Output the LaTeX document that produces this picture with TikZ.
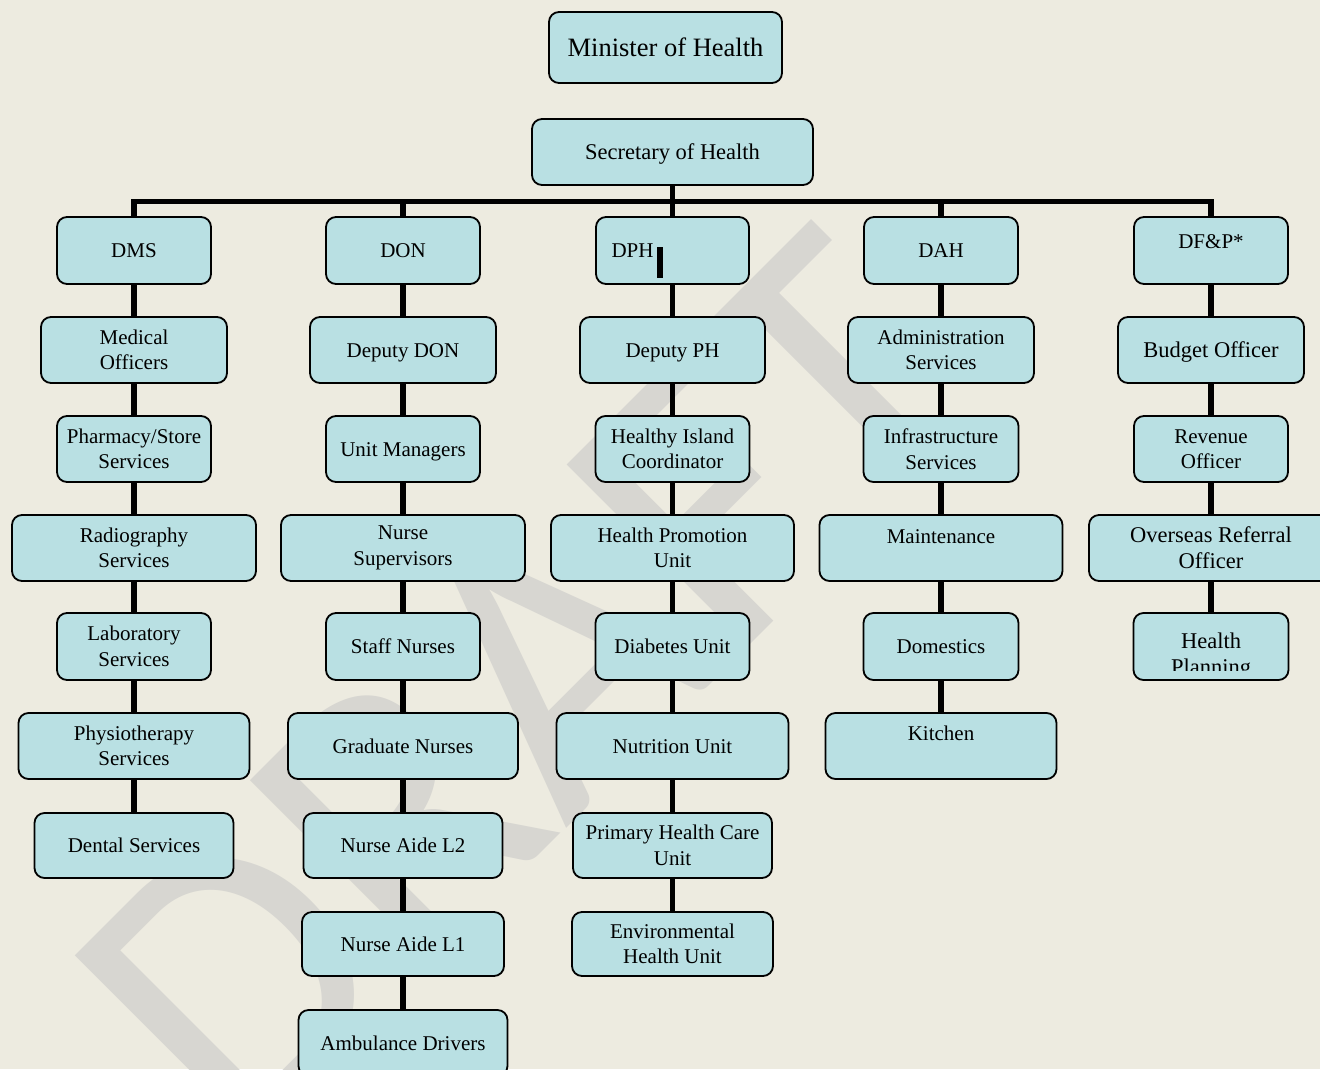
\documentclass[tikz,border=0pt]{standalone}
\usepackage{fontspec}
\setmainfont{Liberation Serif}
\newfontfamily\wmfont{Carlito}
\definecolor{bgc}{RGB}{237,235,224}
\definecolor{boxfill}{RGB}{185,224,227}
\definecolor{wmc}{RGB}{215,214,209}
\tikzset{
  box/.style={draw=black, line width=1.8pt, fill=boxfill, rounded corners=10pt,
    inner xsep=3pt, inner ysep=2pt, align=center, text=black,
    font=\fontsize{21}{25.5}\selectfont},
  big/.style={font=\fontsize{22.5}{26}\selectfont},
  one/.style={text height=18.7pt, text depth=4.5pt},
  onebig/.style={text height=20pt, text depth=4.9pt},
  conn/.style={line width=5.5pt, draw=black},
  topal/.style={text height=18.7pt, text depth=#1},
}
\begin{document}
\begin{tikzpicture}[x=1pt,y=-1pt]
\useasboundingbox (0,0) rectangle (1320,1069);
\fill[bgc] (0,0) rectangle (1320,1069);
\clip (0,0) rectangle (1320,1069);
% watermark
\node[anchor=base west, rotate=45, inner sep=0pt, text=wmc,
  font=\wmfont\fontsize{400}{400}\selectfont] (wm) at (237.7,1157) {DRAFT};

% top
\node[box, minimum width=233pt, minimum height=71pt, font=\fontsize{26.5}{30}\selectfont, text height=23.6pt, text depth=5.7pt] (min) at (665.5,47.5) {Minister of Health};
\node[box, big, onebig, minimum width=281pt, minimum height=66pt] (sec) at (672.5,152) {Secretary of Health};

% row 1
\node[box, one, minimum width=154pt, minimum height=67pt] (dms) at (134,250.5) {DMS};
\node[box, one, minimum width=154pt, minimum height=67pt] (don) at (403,250.5) {DON};
\node[box, one, minimum width=153pt, minimum height=67pt, inner xsep=15.5pt, text width=122pt, align=left] (dph) at (672.5,250.5) {DPH};
\node[box, one, minimum width=154pt, minimum height=67pt] (dah) at (941,250.5) {DAH};
\node[box, minimum width=154pt, minimum height=67pt, topal=23.7pt] (dfp) at (1211,250.5) {DF\&P*};

% row 2
\node[box, minimum width=186pt, minimum height=66pt] (medo) at (134,350) {Medical\\Officers};
\node[box, one, minimum width=186pt, minimum height=66pt] (ddon) at (403,350) {Deputy DON};
\node[box, one, minimum width=185pt, minimum height=66pt] (dpph) at (672.5,350) {Deputy PH};
\node[box, minimum width=186pt, minimum height=66pt] (adm) at (941,350) {Administration\\Services};
\node[box, big, onebig, minimum width=186pt, minimum height=66pt] (bud) at (1211,350) {Budget Officer};

% row 3
\node[box, minimum width=154pt, minimum height=66pt] (pha) at (134,449) {Pharmacy/Store\\Services};
\node[box, one, minimum width=154pt, minimum height=66pt] (umg) at (403,449) {Unit Managers};
\node[box, minimum width=154pt, minimum height=66pt] (hic) at (672.5,449) {Healthy Island\\Coordinator};
\node[box, minimum width=155pt, minimum height=66pt] (inf) at (941,449) {Infrastructure\\Services};
\node[box, minimum width=154pt, minimum height=66pt] (rev) at (1211,449) {Revenue\\Officer};

% row 4
\node[box, minimum width=244pt, minimum height=66pt] (rad) at (134,548) {Radiography\\Services};
\node[box, minimum width=244pt, minimum height=66pt] (nsup) at (403,548) {Nurse\\Supervisors};
\node[box, minimum width=243pt, minimum height=66pt] (hpu) at (672.5,548) {Health Promotion\\Unit};
\node[box, minimum width=243pt, minimum height=66pt, topal=28.7pt] (mnt) at (941,548) {Maintenance};
\node[box, big, minimum width=244pt, minimum height=66pt] (ovs) at (1211,548) {Overseas Referral\\Officer};

% row 5
\node[box, minimum width=154pt, minimum height=67pt] (lab) at (134,646.5) {Laboratory\\Services};
\node[box, one, minimum width=154pt, minimum height=67pt] (stn) at (403,646.5) {Staff Nurses};
\node[box, one, minimum width=154pt, minimum height=67pt] (dbu) at (672.5,646.5) {Diabetes Unit};
\node[box, one, minimum width=155pt, minimum height=67pt] (dom) at (941,646.5) {Domestics};
\node[box, minimum width=155pt, minimum height=67pt] (hpl) at (1211,646.5) {};
\begin{scope}
  \clip (1133,613) rectangle (1289,670);
  \node[align=center, inner sep=0pt, big] (hpltext) at (1211,656) {Health\\Planning};
\end{scope}

% row 6
\node[box, minimum width=231pt, minimum height=66pt] (phy) at (134,746) {Physiotherapy\\Services};
\node[box, one, minimum width=230pt, minimum height=66pt] (grn) at (403,746) {Graduate Nurses};
\node[box, one, minimum width=232pt, minimum height=66pt] (nut) at (672.5,746) {Nutrition Unit};
\node[box, minimum width=231pt, minimum height=66pt, topal=30.7pt] (kit) at (941,746) {Kitchen};

% row 7
\node[box, one, minimum width=199pt, minimum height=65pt] (den) at (134,845.5) {Dental Services};
\node[box, one, minimum width=199pt, minimum height=65pt] (na2) at (403,845.5) {Nurse Aide L2};
\node[box, minimum width=199pt, minimum height=65pt] (phc) at (672.5,845.5) {Primary Health Care\\Unit};

% row 8
\node[box, one, minimum width=202pt, minimum height=64pt] (na1) at (403,944) {Nurse Aide L1};
\node[box, minimum width=201pt, minimum height=64pt] (env) at (672.5,944) {Environmental\\Health Unit};

% row 9
\node[box, one, minimum width=209pt, minimum height=66pt] (amb) at (403,1043) {Ambulance Drivers};

% connectors
\coordinate (bar) at (672.5,201.5);
\draw[conn] (dms.north) -- (dms.north |- bar) -- (dfp.north |- bar) -- (dfp.north);
\draw[conn] (sec.south) -- (dph.north);
\draw[conn] (don.north |- bar) -- (don.north);
\draw[conn] (dah.north |- bar) -- (dah.north);
\coordinate (strayA) at (660,247);
\coordinate (strayB) at (660,278);
\draw[conn] (strayA) -- (strayB);

\foreach \a/\b in {dms/medo, medo/pha, pha/rad, rad/lab, lab/phy, phy/den,
  don/ddon, ddon/umg, umg/nsup, nsup/stn, stn/grn, grn/na2, na2/na1, na1/amb,
  dph/dpph, dpph/hic, hic/hpu, hpu/dbu, dbu/nut, nut/phc, phc/env,
  dah/adm, adm/inf, inf/mnt, mnt/dom, dom/kit,
  dfp/bud, bud/rev, rev/ovs, ovs/hpl}
  \draw[conn] (\a.south) -- (\a.south |- \b.north);
\end{tikzpicture}
\end{document}
